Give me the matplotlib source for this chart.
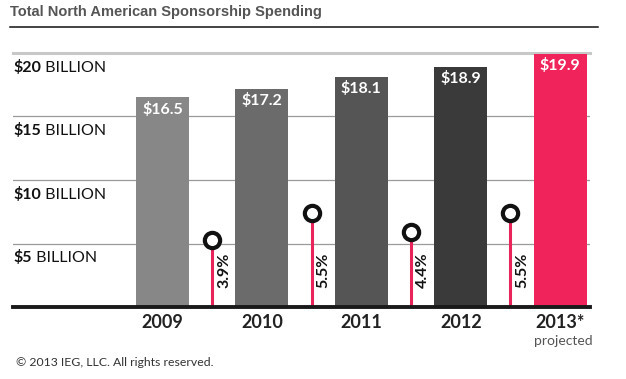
import matplotlib
matplotlib.use("Agg")
from matplotlib import pyplot as plt
from matplotlib.lines import Line2D

years = ["2009", "2010", "2011", "2012", "2013*"]
spending = [16.5, 17.2, 18.1, 18.9, 19.9]
growth = [3.9, 5.5, 4.4, 5.5]
growth_labels = ["3.9%", "5.5%", "4.4%", "5.5%"]
ticks = [5, 10, 15, 20]
bar_colors = ["#878787", "#6b6b6b", "#555555", "#3a3a3a", "#f0245a"]
pink = "#e8245a"

W, H = 626, 379
fig = plt.figure(figsize=(W / 100, H / 100), dpi=100)
ax = fig.add_axes([13 / W, 72 / H, (590 - 13) / W, (307 - 53) / H])
ax.set_xlim(-1.504, 4.30)
ax.set_ylim(0, 20)
ax.axis("off")

# grid lines
for t in ticks:
    if t == 20:
        ax.axhline(t, color="#c8c8c8", lw=2.2, zorder=0, clip_on=False)
    else:
        ax.axhline(t, color="#9a9a9a", lw=0.9, zorder=0)
ax.axhline(0, color="#1a1a1a", lw=2.8, zorder=5, clip_on=False)

# bars
x = list(range(len(years)))
bars = ax.bar(x, spending, width=0.533, color=bar_colors, zorder=2, clip_on=False)
for xi, v in zip(x, spending):
    ax.annotate("$%.1f" % v, (xi, v), xytext=(0, -3), textcoords="offset points",
                ha="center", va="top", color="white", fontsize=11.5,
                fontweight="bold", family="Lato", zorder=6)

# year labels
for xi, y in zip(x, years):
    ax.annotate(y, (xi, 0), xytext=(0, -5), textcoords="offset points",
                ha="center", va="top", fontsize=13, fontweight="bold",
                family="Lato", color="#222222", annotation_clip=False)
ax.annotate("projected", (x[-1], 0), xytext=(2, -20), textcoords="offset points",
            ha="center", va="top", fontsize=10, family="Lato", color="#555555",
            annotation_clip=False)

# growth lollipops
for i, (g, lab) in enumerate(zip(growth, growth_labels)):
    xm = i + 0.5
    top = g * 1.35
    ax.plot([xm, xm], [0, top], color=pink, lw=2.2, zorder=3, solid_capstyle="butt")
    ax.plot(xm, top, "o", ms=11, mfc="white", mec="#111111", mew=3, zorder=4)
    ax.annotate(lab, (xm, 2.9), xytext=(8.5, 0), textcoords="offset points",
                rotation=90, ha="center", va="center", fontsize=11.5,
                fontweight="bold", family="Lato", color="#111111")

# y labels: bold amount + regular BILLION
for t in ticks:
    a = ax.annotate("$%d" % t, (-1.504, t), xytext=(0, -5), textcoords="offset points",
                    ha="left", va="top", fontsize=11.5, fontweight="bold",
                    family="Lato", color="#111111")
    ax.annotate(" BILLION", xy=(1, 0), xycoords=a, ha="left", va="bottom",
                fontsize=11.5, family="Lato", color="#111111")

# title and rule
fig.text(10 / W, 1 - 12 / H, "Total North American Sponsorship Spending",
         ha="left", va="center", fontsize=10.5, fontweight="bold",
         family="Liberation Sans", color="#555555")
fig.add_artist(Line2D([10 / W, 598 / W], [1 - 27 / H, 1 - 27 / H],
                      color="#111111", lw=1.1))

fig.text(16 / W, 1 - 363 / H, "\u00a9 2013 IEG, LLC. All rights reserved.",
         ha="left", va="center", fontsize=8.8, family="Lato", color="#333333")

fig.savefig("out.png", dpi=100)
